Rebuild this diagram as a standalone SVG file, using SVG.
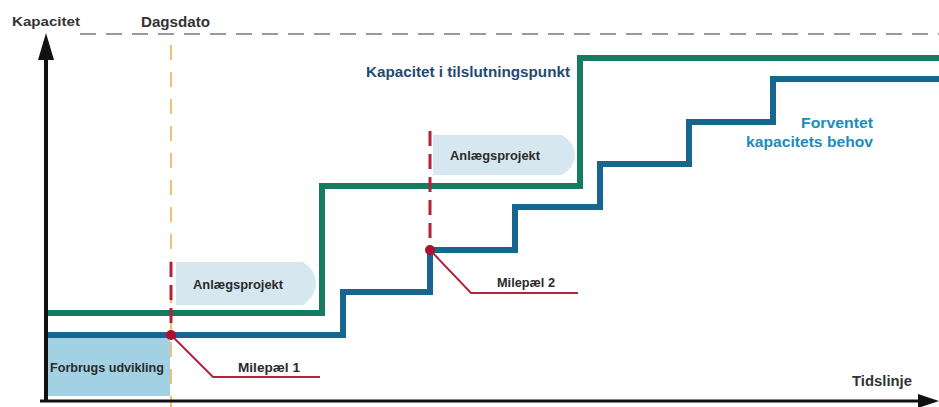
<svg xmlns="http://www.w3.org/2000/svg" width="939" height="407" viewBox="0 0 939 407">
<style>
.t{font-family:"Liberation Sans",Arial,sans-serif;font-weight:bold}
.dark{fill:#333}
.lbl{fill:#2a2a2a;font-size:12px}
.green{fill:none;stroke:#177a62;stroke-width:6;stroke-linejoin:miter}
.blue{fill:none;stroke:#16668f;stroke-width:6;stroke-linejoin:miter}
.red{fill:none;stroke:#b4233c;stroke-width:2}
.reddash{fill:none;stroke:#b4233c;stroke-width:3;stroke-dasharray:15 8}
.proj{fill:#d7e7f0}
.head{fill:#111}
</style>
<rect width="939" height="407" fill="#fff"/>
<g id="today-line">
<line x1="171" y1="45" x2="171" y2="407" stroke="#f0c070" stroke-width="2" stroke-dasharray="15 12"/>
</g>
<g id="forbrugs-udvikling">
<rect x="45" y="338" width="125" height="58" fill="#a2d1e4"/>
<text class="t lbl" x="107" y="372" text-anchor="middle" textLength="114" lengthAdjust="spacingAndGlyphs">Forbrugs udvikling</text>
</g>
<g id="anlaeg1">
<path class="proj" d="M176,262 H303 Q316,270 316,283 Q316,296 303,305 H176 Z"/>
<text class="t lbl" x="238" y="289" text-anchor="middle" textLength="90" lengthAdjust="spacingAndGlyphs">Anlægsprojekt</text>
</g>
<g id="anlaeg2">
<path class="proj" d="M433,135 H562 Q575,143 575,155 Q575,167 562,175 H433 Z"/>
<text class="t lbl" x="495" y="160" text-anchor="middle" textLength="90" lengthAdjust="spacingAndGlyphs">Anlægsprojekt</text>
</g>
<g id="connectors">
<line x1="80" y1="34" x2="939" y2="34" stroke="#9a9a9a" stroke-width="2" stroke-dasharray="16 10"/>
<polyline class="green" points="45,313 322,313 322,186 580,186 580,58 939,58"/>
<polyline class="blue" points="45,335 343,335 343,292 430,292 430,250 515,250 515,207 600,207 600,164 689,164 689,122 773,122 773,79 939,79"/>
<line class="reddash" x1="171" y1="262" x2="171" y2="333"/>
<line class="reddash" x1="430" y1="131" x2="430" y2="248"/>
<polyline class="red" points="171,335 213,377 320,377"/>
<polyline class="red" points="430,250 471,293 578,293"/>
<circle cx="171" cy="335" r="5" fill="#b0102c"/>
<circle cx="430" cy="250" r="5" fill="#b0102c"/>
<line x1="46" y1="402" x2="46" y2="56" stroke="#111" stroke-width="4"/>
<path class="head" d="M38,60 L46,33 L54,60 Z"/>
<line x1="40" y1="401" x2="922" y2="401" stroke="#111" stroke-width="3"/>
<path class="head" d="M918,394 L939,401 L918,408 Z"/>
</g>
<g id="labels">
<text class="t dark" x="12" y="26" font-size="13" textLength="68" lengthAdjust="spacingAndGlyphs">Kapacitet</text>
<text class="t dark" x="141" y="27" font-size="15" textLength="69" lengthAdjust="spacingAndGlyphs">Dagsdato</text>
<text class="t" x="366" y="77" font-size="14" fill="#1f4a72" textLength="204" lengthAdjust="spacingAndGlyphs">Kapacitet i tilslutningspunkt</text>
<text class="t" x="873" y="128" font-size="15" fill="#1d8bbb" text-anchor="end" textLength="72" lengthAdjust="spacingAndGlyphs">Forventet</text>
<text class="t" x="873" y="147" font-size="15" fill="#1d8bbb" text-anchor="end" textLength="127" lengthAdjust="spacingAndGlyphs">kapacitets behov</text>
<text class="t lbl" x="238" y="372" textLength="62" lengthAdjust="spacingAndGlyphs">Milepæl 1</text>
<text class="t lbl" x="497" y="287" textLength="58" lengthAdjust="spacingAndGlyphs">Milepæl 2</text>
<text class="t dark" x="852" y="386" font-size="14" textLength="60" lengthAdjust="spacingAndGlyphs">Tidslinje</text>
</g>
</svg>
